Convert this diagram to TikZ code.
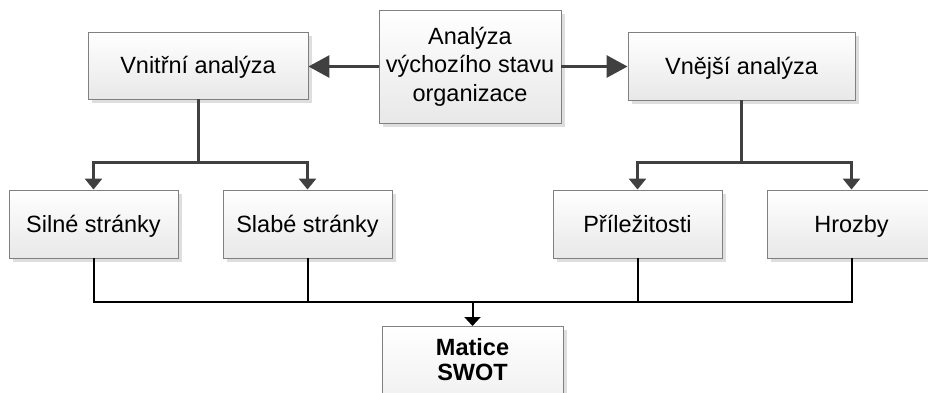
\documentclass[tikz,border=0pt]{standalone}
\usepackage{fontspec}
\setmainfont{Liberation Sans}
\usetikzlibrary{arrows.meta,shadows}
\definecolor{linegray}{HTML}{404040}
\definecolor{boxedge}{HTML}{808080}
\tikzset{
  box/.style={rectangle, draw=boxedge, line width=0.9pt,
    top color=white, bottom color=black!9,
    drop shadow={shadow xshift=4pt, shadow yshift=-4pt, fill=black!13, opacity=1},
    align=center, inner sep=0pt,
    font=\fontsize{23.5}{28.5}\selectfont},
  oneline/.style={text height=20pt, text depth=3.2pt},
  bigarrow/.style={draw=linegray, line width=3pt,
    -{Triangle[length=21pt,width=22pt]}},
  branch/.style={draw=linegray, line width=3pt,
    -{Triangle[length=11pt,width=17pt]}},
  feed/.style={draw=black, line width=2pt},
  feedarrow/.style={draw=black, line width=2pt,
    -{Triangle[length=9pt,width=16pt]}},
}
\begin{document}
\begin{tikzpicture}[x=1pt,y=-1pt]
  \useasboundingbox (0,0) rectangle (928,392);
  \clip (0,0) rectangle (928,392);

  % analysis boxes
  \node[box, minimum width=182pt, minimum height=113pt] (start) at (470,66.5)
    {Analýza\\výchozího stavu\\organizace};
  \node[box, oneline, minimum width=220pt, minimum height=67pt] (vnitr) at (198,65.5) {Vnitřní analýza};
  \node[box, oneline, minimum width=227pt, minimum height=68pt] (vnej) at (741.5,66) {Vnější analýza};

  % SWOT components
  \node[box, oneline, minimum width=169pt, minimum height=68pt] (silne) at (93.5,224) {Silné stránky};
  \node[box, oneline, minimum width=169pt, minimum height=68pt] (slabe) at (307.5,224) {Slabé stránky};
  \node[box, oneline, minimum width=169pt, minimum height=68pt] (prile) at (637.5,224) {Příležitosti};
  \node[box, oneline, minimum width=169pt, minimum height=68pt] (hroz) at (851.5,224) {Hrozby};

  % result (lower part runs past the page edge)
  \node[box, anchor=north, font=\fontsize{23.5}{25.5}\selectfont\bfseries] (swot) at (472.5,326)
    {\parbox[c][114pt][t]{181pt}{\centering\vspace*{12pt}Matice\\SWOT}};

  % junction points
  \coordinate (lsplit) at (198,162);
  \coordinate (rsplit) at (741.5,162);
  \coordinate (bus) at (472.5,302);

  % split of the starting analysis
  \draw[bigarrow] (start.west) -- (start.west -| vnitr.east);
  \draw[bigarrow] (start.east) -- (start.east -| vnej.west);

  % internal analysis branches
  \draw[draw=linegray, line width=3pt] (vnitr.south) -- (lsplit);
  \draw[branch] (lsplit) -| (silne.north);
  \draw[branch] (lsplit) -| (slabe.north);

  % external analysis branches
  \draw[draw=linegray, line width=3pt] (vnej.south) -- (rsplit);
  \draw[branch] (rsplit) -| (prile.north);
  \draw[branch] (rsplit) -| (hroz.north);

  % collecting bus into the matrix
  \draw[feed] (silne.south) |- (bus);
  \draw[feed] (hroz.south) |- (bus);
  \draw[feed] (slabe.south) -- (slabe.south |- bus);
  \draw[feed] (prile.south) -- (prile.south |- bus);
  \draw[feedarrow] (bus) -- (swot.north);
\end{tikzpicture}
\end{document}
